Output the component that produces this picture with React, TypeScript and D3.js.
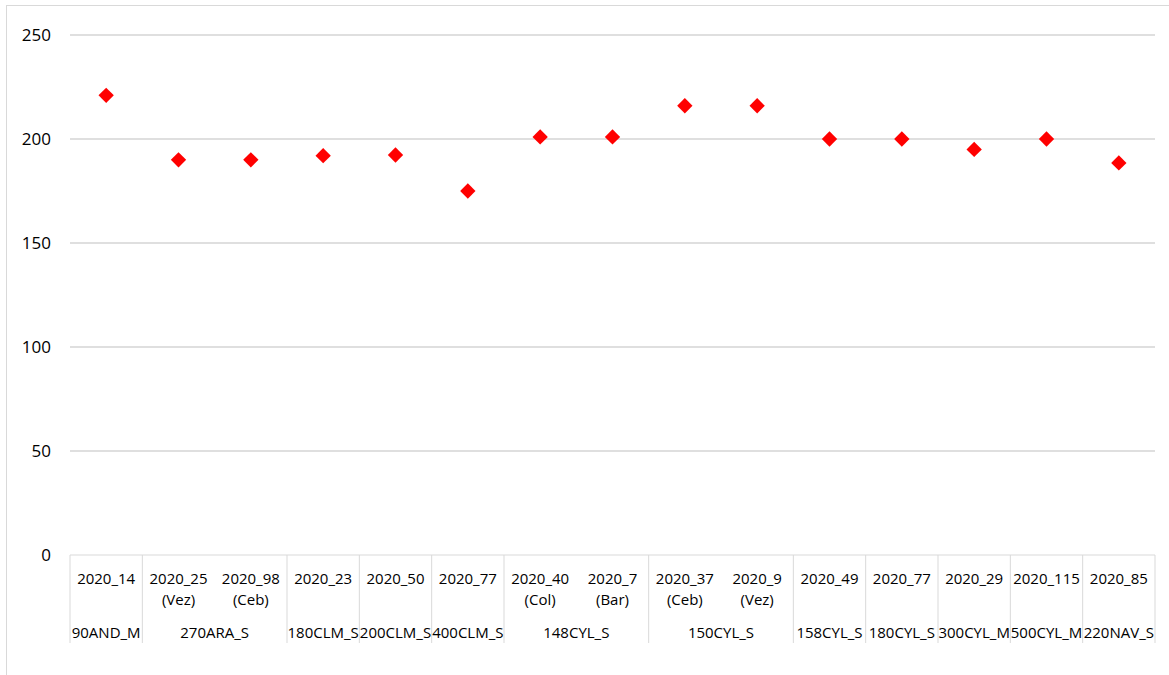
import React from "react";
import * as d3 from "d3";

const codes = ["2020_14", "2020_25", "2020_98", "2020_23", "2020_50", "2020_77", "2020_40", "2020_7", "2020_37", "2020_9", "2020_49", "2020_77", "2020_29", "2020_115", "2020_85"];
const subLabels = ["", "(Vez)", "(Ceb)", "", "", "", "(Col)", "(Bar)", "(Ceb)", "(Vez)", "", "", "", "", ""];
const groups = ["90AND_M", "270ARA_S", "270ARA_S", "180CLM_S", "200CLM_S", "400CLM_S", "148CYL_S", "148CYL_S", "150CYL_S", "150CYL_S", "158CYL_S", "180CYL_S", "300CYL_M", "500CYL_M", "220NAV_S"];
const values = [221, 190, 190, 192, 192.3, 175, 201, 201, 216, 216, 200, 200, 195, 200, 188.5];
const yTicks = [0, 50, 100, 150, 200, 250];

const W = 1169, H = 675;
const left = 70, right = 1155, top = 35, bottom = 555;
const font = "'Open Sans', 'Liberation Sans', sans-serif";

export default function App() {
  const idx = d3.range(codes.length);
  const x = d3.scaleBand<number>().domain(idx).range([left, right]).padding(0);
  const y = d3.scaleLinear().domain([0, 250]).range([bottom, top]);

  // group spans
  const spans: { name: string; start: number; end: number }[] = [];
  groups.forEach((g, i) => {
    const last = spans[spans.length - 1];
    if (last && last.name === g) last.end = i;
    else spans.push({ name: g, start: i, end: i });
  });
  const bw = x.bandwidth();
  const diamond = d3.symbol().type(d3.symbolDiamond2).size(150)();

  return (
    <svg width={W} height={H} style={{ position: "absolute", left: 0, top: 0, background: "#fff" }}>
      <rect x={6.5} y={5.5} width={W + 10} height={H + 10} fill="none" stroke="#d9d9d9" />
      {yTicks.map((t) => (
        <g key={t}>
          {t > 0 && <line x1={left} x2={right} y1={y(t)} y2={y(t)} stroke="#bfbfbf" strokeWidth={1} />}
          <text x={51} y={y(t)} dy="0.35em" textAnchor="end" fontFamily={font} fontSize={17} fill="#000">{t}</text>
        </g>
      ))}
      <line x1={left} x2={right} y1={bottom} y2={bottom} stroke="#d9d9d9" />
      {spans.map((s, k) => (
        <line key={"l" + k} x1={x(s.start)!} x2={x(s.start)!} y1={bottom} y2={643} stroke="#d9d9d9" />
      ))}
      <line x1={right} x2={right} y1={bottom} y2={643} stroke="#d9d9d9" />
      {idx.map((i) => (
        <g key={"c" + i}>
          <text x={x(i)! + bw / 2} y={579} dy="0.35em" textAnchor="middle" fontFamily={font} fontSize={15} fill="#000">{codes[i]}</text>
          {subLabels[i] && (
            <text x={x(i)! + bw / 2} y={600} dy="0.35em" textAnchor="middle" fontFamily={font} fontSize={15} fill="#000">{subLabels[i]}</text>
          )}
        </g>
      ))}
      {spans.map((s, k) => (
        <text key={"g" + k} x={(x(s.start)! + x(s.end)! + bw) / 2} y={633} dy="0.35em" textAnchor="middle" fontFamily={font} fontSize={15} fill="#000">{s.name}</text>
      ))}
      {values.map((v, i) => (
        <path key={"p" + i} d={diamond!} transform={`translate(${x(i)! + bw / 2},${y(v)})`} fill="#ff0000" />
      ))}
    </svg>
  );
}
